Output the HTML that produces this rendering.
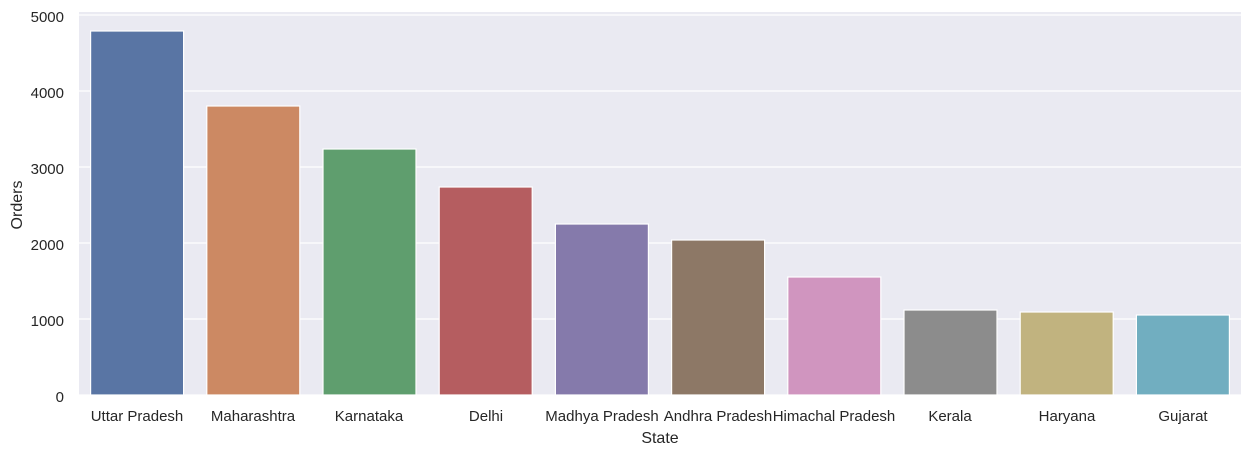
<!DOCTYPE html>
<html><head><style>body{margin:0;background:#fff}svg text{font-family:"Liberation Sans",sans-serif;fill:#262626}</style></head><body>
<svg width="1250" height="454" xmlns="http://www.w3.org/2000/svg">
<rect x="79" y="12" width="1162" height="383" fill="#eaeaf2"/>
<g stroke="#fff" stroke-width="1.3">
<line x1="79" x2="1241" y1="395" y2="395"/><line x1="79" x2="1241" y1="319" y2="319"/><line x1="79" x2="1241" y1="243" y2="243"/><line x1="79" x2="1241" y1="167" y2="167"/><line x1="79" x2="1241" y1="91" y2="91"/><line x1="79" x2="1241" y1="15" y2="15"/>
</g>
<g stroke="#fff" stroke-width="1.2">
<rect x="90.6" y="31" width="93" height="364" fill="#5975a4"/>
<rect x="206.8" y="106" width="93" height="289" fill="#cc8963"/>
<rect x="323" y="149" width="93" height="246" fill="#5f9e6e"/>
<rect x="439.2" y="187" width="93" height="208" fill="#b55d60"/>
<rect x="555.4" y="224" width="93" height="171" fill="#857aab"/>
<rect x="671.6" y="240" width="93" height="155" fill="#8d7866"/>
<rect x="787.8" y="277" width="93" height="118" fill="#d095bf"/>
<rect x="904" y="310" width="93" height="85" fill="#8c8c8c"/>
<rect x="1020.2" y="312" width="93" height="83" fill="#c1b37f"/>
<rect x="1136.4" y="315" width="93" height="80" fill="#71aec0"/>
</g>
<g font-size="15" text-anchor="end">
<text x="64" y="402">0</text><text x="64" y="326">1000</text><text x="64" y="250">2000</text><text x="64" y="174">3000</text><text x="64" y="98">4000</text><text x="64" y="22">5000</text>
</g>
<g font-size="15" text-anchor="middle">
<text x="137" y="421">Uttar Pradesh</text><text x="253" y="421">Maharashtra</text><text x="369" y="421">Karnataka</text><text x="486" y="421">Delhi</text><text x="602" y="421">Madhya Pradesh</text><text x="718" y="421">Andhra Pradesh</text><text x="834" y="421">Himachal Pradesh</text><text x="950" y="421">Kerala</text><text x="1067" y="421">Haryana</text><text x="1183" y="421">Gujarat</text>
<text x="660" y="443" font-size="16">State</text>
<text transform="translate(22,205) rotate(-90)" font-size="16">Orders</text>
</g>
</svg>
</body></html>
